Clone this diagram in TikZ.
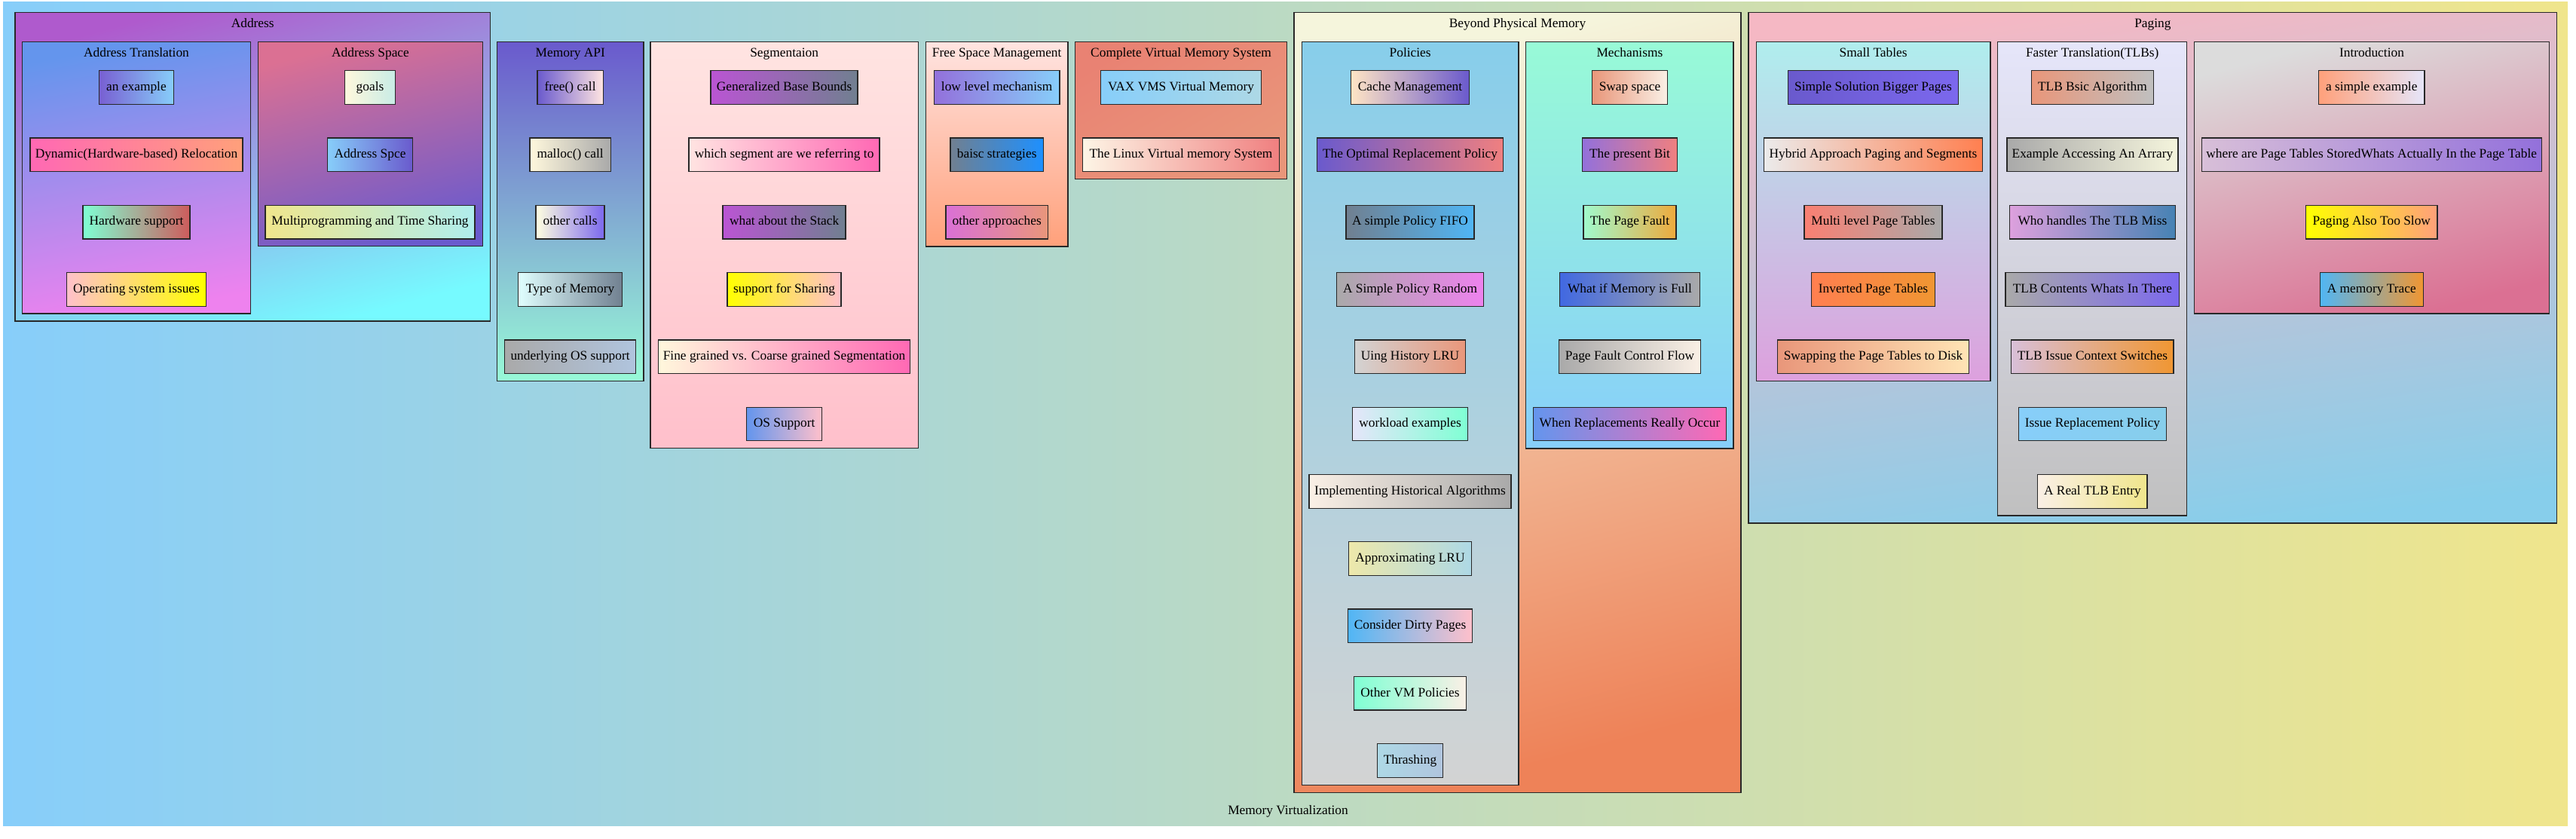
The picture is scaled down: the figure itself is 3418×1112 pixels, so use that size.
\PassOptionsToPackage{svgnames}{xcolor}
\documentclass[tikz,border=0pt]{standalone}
\usepackage{fontspec}
\setmainfont{Liberation Serif}
\usetikzlibrary{fit}
\definecolor{addrT}{RGB}{175,90,205}
\definecolor{addrB}{RGB}{118,250,255}
\definecolor{aquaL}{RGB}{152,250,215}
\definecolor{anexL}{RGB}{120,95,210}
\definecolor{goalsR}{RGB}{200,236,230}
\definecolor{cvmT}{RGB}{233,130,115}
\definecolor{pfL}{RGB}{160,250,205}
\definecolor{pfR}{RGB}{238,170,60}
\definecolor{tlbOrange}{RGB}{240,150,50}
\definecolor{hybL}{RGB}{235,235,235}
\definecolor{bpmB}{RGB}{238,130,88}
\definecolor{pagT}{RGB}{245,184,196}
\definecolor{skyD}{RGB}{80,182,245}
\definecolor{edgeC}{RGB}{40,40,40}
\tikzset{
  clus/.style={draw=edgeC, line width=1pt, inner sep=0pt},
  nbox/.style={draw=edgeC, line width=1pt, minimum height=36pt, inner xsep=1pt, inner ysep=0pt,
    text height=9.5pt, text depth=2.5pt, font=\fontsize{14}{16}\selectfont},
  clab/.style={anchor=base, font=\fontsize{14}{16}\selectfont, inner sep=0pt},
}
\newcommand\nd[7]{\node[nbox, left color=#5, right color=#6, minimum width={#4*0.80645pt}] (#1) at (#2,#3) {#7};}
\newcommand\cl[9]{%
  \node[clus, fit={(#2,#3)(#4,#5)}, top color=#6, bottom color=#7, shading angle=#8] (#1) {};
  \node[clab] (#1-l) at ({(#2+#4)/2},{#3+20}) {#9};}
\begin{document}
\begin{tikzpicture}[x=0.80645pt, y=-0.80645pt]
\useasboundingbox (0,0) rectangle (3418,1112);
\fill[left color=LightSkyBlue, right color=Khaki] (4,2) rectangle (3407,1095);
% top-level clusters
\cl{addr}{20}{16.7}{650.5}{426}{addrT}{addrB}{15}{Address}
\cl{mapi}{659.6}{55.3}{853.9}{505.5}{SlateBlue}{aquaL}{0}{Memory API}
\cl{seg}{863}{55.3}{1218.3}{594.8}{MistyRose}{Pink}{0}{Segmentaion}
\cl{fsm}{1228.3}{55.3}{1417}{327}{MistyRose}{LightSalmon}{0}{Free Space Management}
\cl{cvm}{1426.7}{55.3}{1707.3}{237.6}{cvmT}{DarkSalmon}{30}{Complete Virtual Memory System}
\cl{bpm}{1717}{16.7}{2310}{1051.5}{Beige}{bpmB}{15}{Beyond Physical Memory}
\cl{pag}{2320}{16.7}{3392.7}{694}{pagT}{SkyBlue}{8}{Paging}
% nested clusters
\cl{atr}{29.5}{55.3}{332.6}{416}{CornflowerBlue}{Violet}{10}{Address Translation}
\cl{asp}{342.7}{55.3}{640.4}{326.7}{PaleVioletRed}{SlateBlue}{15}{Address Space}
\cl{pol}{1727.3}{55.3}{2015}{1041.3}{SkyBlue}{LightGray}{0}{Policies}
\cl{mech}{2024.8}{55.3}{2300}{595}{aquaL}{LightSkyBlue}{0}{Mechanisms}
\cl{smt}{2330.3}{55.3}{2641}{505.5}{PaleTurquoise}{Plum}{0}{Small Tables}
\cl{ftr}{2650.5}{55.3}{2901.8}{684}{Lavender}{Silver}{0}{Faster Translation(TLBs)}
\cl{intro}{2911.3}{55.3}{3382.7}{416}{Gainsboro}{PaleVioletRed}{15}{Introduction}
% Address Translation
\nd{n1}{181}{116}{99.3}{anexL}{LightSkyBlue}{an example}
\nd{n2}{181}{205.3}{282}{HotPink}{LightSalmon}{Dynamic(Hardware-based) Relocation}
\nd{n3}{181}{294.6}{141.8}{Aquamarine}{IndianRed}{Hardware support}
\nd{n4}{181}{383.9}{185.3}{Pink}{Yellow}{Operating system issues}
% Address Space
\nd{n5}{491}{116}{67.4}{Cornsilk}{goalsR}{goals}
\nd{n6}{491}{205.3}{113.2}{LightSkyBlue}{SlateBlue}{Address Spce}
\nd{n7}{491}{294.6}{278}{Khaki}{PaleTurquoise}{Multiprogramming and Time Sharing}
% Memory API
\nd{n8}{756.6}{116}{87.1}{SlateBlue}{MistyRose}{free() call}
\nd{n9}{756.6}{205.3}{107.1}{Cornsilk}{DarkGray}{malloc() call}
\nd{n10}{756.6}{294.6}{91}{LightYellow}{MediumSlateBlue}{other calls}
\nd{n11}{756.6}{383.9}{138.5}{LightCyan}{SlateGray}{Type of Memory}
\nd{n12}{756.6}{473.2}{173.9}{DarkGray}{LightSteelBlue}{underlying OS support}
% Segmentaion
\nd{n13}{1040.6}{116}{195}{MediumOrchid}{SlateGray}{Generalized Base Bounds}
\nd{n14}{1040.6}{205.3}{253}{MistyRose}{HotPink}{which segment are we referring to}
\nd{n15}{1040.6}{294.6}{163}{MediumOrchid}{SlateGray}{what about the Stack}
\nd{n16}{1040.6}{383.9}{151}{Yellow}{Pink}{support for Sharing}
\nd{n17}{1040.6}{473.2}{333.8}{Cornsilk}{HotPink}{Fine grained vs. Coarse grained Segmentation}
\nd{n18}{1040.6}{562.5}{99.5}{CornflowerBlue}{Pink}{OS Support}
% Free Space Management
\nd{n19}{1322.7}{116}{166.7}{MediumPurple}{LightSkyBlue}{low level mechanism}
\nd{n20}{1322.7}{205.3}{123.3}{SlateGray}{DodgerBlue}{baisc strategies}
\nd{n21}{1322.7}{294.6}{135.6}{Orchid}{DarkSalmon}{other approaches}
% Complete Virtual Memory System
\nd{n22}{1567}{116}{213.7}{LightSkyBlue}{LightBlue}{VAX VMS Virtual Memory}
\nd{n23}{1567}{205.3}{260.6}{OldLace}{LightCoral}{The Linux Virtual memory System}
% Policies
\nd{n24}{1871}{116}{156.3}{Bisque}{SlateBlue}{Cache Management}
\nd{n25}{1871}{205.3}{247.7}{SlateBlue}{LightCoral}{The Optimal Replacement Policy}
\nd{n26}{1871}{294.6}{170}{SlateGray}{skyD}{A simple Policy FIFO}
\nd{n27}{1871}{383.9}{194.5}{DarkGray}{Violet}{A Simple Policy Random}
\nd{n28}{1871}{473.2}{147.5}{LightGray}{DarkSalmon}{Uing History LRU}
\nd{n29}{1871}{562.5}{153}{Lavender}{Aquamarine}{workload examples}
\nd{n30}{1871}{651.8}{268}{Linen}{DarkGray}{Implementing Historical Algorithms}
\nd{n31}{1871}{741.1}{162.8}{PaleGoldenrod}{LightBlue}{Approximating LRU}
\nd{n32}{1871}{830.4}{164.8}{skyD}{Pink}{Consider Dirty Pages}
\nd{n33}{1871}{919.7}{148.9}{Aquamarine}{Linen}{Other VM Policies}
\nd{n34}{1871}{1009}{87.7}{LightBlue}{LightSteelBlue}{Thrashing}
% Mechanisms
\nd{n35}{2162.5}{116}{99.5}{DarkSalmon}{Linen}{Swap space}
\nd{n36}{2162.5}{205.3}{126}{MediumPurple}{LightCoral}{The present Bit}
\nd{n37}{2162.5}{294.6}{123}{pfL}{pfR}{The Page Fault}
\nd{n38}{2162.5}{383.9}{185.6}{RoyalBlue}{DarkGray}{What if Memory is Full}
\nd{n39}{2162.5}{473.2}{188.1}{DarkGray}{Linen}{Page Fault Control Flow}
\nd{n40}{2162.5}{562.5}{256.4}{CornflowerBlue}{HotPink}{When Replacements Really Occur}
% Small Tables
\nd{n41}{2485.5}{116}{225.5}{SlateBlue}{MediumSlateBlue}{Simple Solution Bigger Pages}
\nd{n42}{2485.5}{205.3}{290.3}{hybL}{Coral}{Hybrid Approach Paging and Segments}
\nd{n43}{2485.5}{294.6}{183}{Salmon}{DarkGray}{Multi level Page Tables}
\nd{n44}{2485.5}{383.9}{163.4}{Coral}{tlbOrange}{Inverted Page Tables}
\nd{n45}{2485.5}{473.2}{253.9}{DarkSalmon}{Moccasin}{Swapping the Page Tables to Disk}
% Faster Translation
\nd{n46}{2776.4}{116}{162}{DarkSalmon}{Silver}{TLB Bsic Algorithm}
\nd{n47}{2776.4}{205.3}{227}{DarkGray}{Beige}{Example Accessing An Arrary}
\nd{n48}{2776.4}{294.6}{220.5}{Plum}{SteelBlue}{Who handles The TLB Miss}
\nd{n49}{2776.4}{383.9}{230.8}{DarkGray}{MediumSlateBlue}{TLB Contents Whats In There}
\nd{n50}{2776.4}{473.2}{215.3}{Thistle}{tlbOrange}{TLB Issue Context Switches}
\nd{n51}{2776.4}{562.5}{196.6}{LightSkyBlue}{SkyBlue}{Issue Replacement Policy}
\nd{n52}{2776.4}{651.8}{145.2}{Linen}{Khaki}{A Real TLB Entry}
% Introduction
\nd{n53}{3146.7}{116}{140.7}{LightSalmon}{Lavender}{a simple example}
\nd{n54}{3146.7}{205.3}{451}{Thistle}{MediumPurple}{where are Page Tables StoredWhats Actually In the Page Table}
\nd{n55}{3146.7}{294.6}{174.3}{Yellow}{LightSalmon}{Paging Also Too Slow}
\nd{n56}{3146.7}{383.9}{137}{skyD}{tlbOrange}{A memory Trace}
% graph label
\node[clab] (title) at (1709,1080) {Memory Virtualization};
\end{tikzpicture}
\end{document}
